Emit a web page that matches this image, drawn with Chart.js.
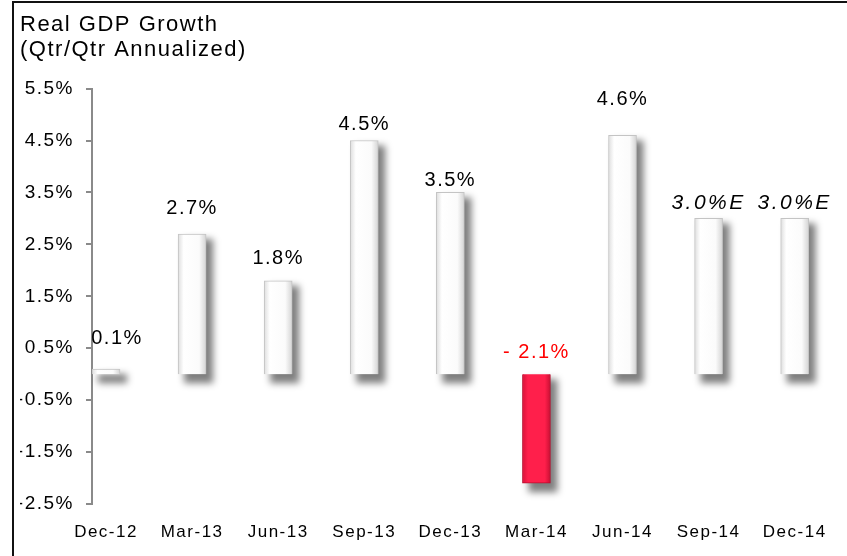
<!DOCTYPE html>
<html>
<head>
<meta charset="utf-8">
<script src="https://cdn.jsdelivr.net/npm/chart.js@4/dist/chart.umd.min.js"></script>
<style>
  html, body { margin: 0; padding: 0; background: #fff; }
  #wrap { width: 847px; height: 556px; position: relative; }
</style>
</head>
<body>
<div id="wrap"><canvas id="gdp"></canvas></div>
<script>
// quarters on the x axis
const quarters = ['Dec-12', 'Mar-13', 'Jun-13', 'Sep-13', 'Dec-13', 'Mar-14', 'Jun-14', 'Sep-14', 'Dec-14'];
// real GDP growth, qtr/qtr annualized (%)
const growth = [0.1, 2.7, 1.8, 4.5, 3.5, -2.1, 4.6, 3.0, 3.0];
// which quarters are estimates
const isEstimate = [false, false, false, false, false, false, false, true, true];
// y axis tick values
const yTicks = [-2.5, -1.5, -0.5, 0.5, 1.5, 2.5, 3.5, 4.5, 5.5];

// styling: how far each value label sits above its bar (px), labels were hand placed in Excel
const labelLift = [31, 26, 22, 16, 12, 22, 36, 15, 15];

const FONT = 'Arial, "Liberation Sans", sans-serif';
const SPACING = '1.5px';

// Excel text looks a bit stretched, widen it with letter spacing
const spacingPlugin = {
  id: 'spacing',
  beforeUpdate(chart) { chart.ctx.letterSpacing = SPACING; },
  beforeLayout(chart) { chart.ctx.letterSpacing = SPACING; },
  beforeDraw(chart) { chart.ctx.letterSpacing = SPACING; },
};

// frame line at the top and left of the picture
const framePlugin = {
  id: 'frame',
  beforeDraw(chart) {
    const ctx = chart.ctx;
    ctx.save();
    ctx.fillStyle = '#fff';
    ctx.fillRect(0, 0, chart.width, chart.height);
    ctx.strokeStyle = '#111';
    ctx.lineWidth = 2;
    ctx.beginPath();
    ctx.moveTo(13, chart.height);
    ctx.lineTo(13, 2);
    ctx.lineTo(chart.width, 2);
    ctx.stroke();
    ctx.restore();
  },
};

// soft drop shadow behind each bar (right and below)
const shadowPlugin = {
  id: 'barShadow',
  beforeDatasetsDraw(chart) {
    const ctx = chart.ctx;
    const meta = chart.getDatasetMeta(0);
    ctx.save();
    ctx.filter = 'blur(3.5px)';
    ctx.fillStyle = 'rgba(0,0,0,0.5)';
    meta.data.forEach((bar) => {
      const top = Math.min(bar.y, bar.base);
      const h = Math.abs(bar.base - bar.y);
      ctx.fillRect(bar.x - bar.width / 2 + 6, top + 5, bar.width + 1, h + 4);
    });
    ctx.restore();
  },
};

// value labels over the bars
const labelPlugin = {
  id: 'valueLabels',
  afterDatasetsDraw(chart) {
    const ctx = chart.ctx;
    const meta = chart.getDatasetMeta(0);
    const y = chart.scales.y;
    ctx.save();
    ctx.textAlign = 'center';
    ctx.textBaseline = 'middle';
    meta.data.forEach((bar, i) => {
      const v = growth[i];
      let text = v.toFixed(1) + '%';
      ctx.letterSpacing = SPACING;
      ctx.fillStyle = '#000';
      ctx.font = '20px ' + FONT;
      if (v < 0) {
        text = '- ' + Math.abs(v).toFixed(1) + '%';
        ctx.fillStyle = '#ff0000';
      }
      if (isEstimate[i]) {
        text += 'E';
        ctx.font = 'italic 21px ' + FONT;
        ctx.letterSpacing = '2.5px';
      }
      const top = v < 0 ? y.getPixelForValue(0) : bar.y;
      ctx.fillText(text, bar.x + (i === 0 ? 11 : 0), top - labelLift[i]);
    });
    ctx.restore();
  },
};

function barFill(ctx) {
  const chart = ctx.chart;
  const neg = growth[ctx.dataIndex] < 0;
  const xs = chart.scales.x;
  if (!xs || xs.left === undefined) return neg ? '#fa1a45' : '#fafafa';
  const cx = xs.getPixelForValue(ctx.dataIndex);
  const g = chart.ctx.createLinearGradient(cx - 14, 0, cx + 14, 0);
  if (neg) {
    g.addColorStop(0, '#d9123a');
    g.addColorStop(0.2, '#ff1f4b');
    g.addColorStop(0.8, '#ff1f4b');
    g.addColorStop(1, '#c90f33');
  } else {
    g.addColorStop(0, '#dedede');
    g.addColorStop(0.2, '#ffffff');
    g.addColorStop(0.75, '#fbfbfb');
    g.addColorStop(1, '#d4d4d4');
  }
  return g;
}

new Chart(document.getElementById('gdp'), {
  type: 'bar',
  data: {
    datasets: [{
      data: growth.map((v, i) => ({ x: i, y: v })),
      backgroundColor: barFill,
      borderColor: (c) => growth[c.dataIndex] < 0 ? '#b80d2e' : '#c4c4c4',
      borderWidth: 1,
      barThickness: 28,
    }],
  },
  plugins: [spacingPlugin, framePlugin, shadowPlugin, labelPlugin],
  options: {
    responsive: true,
    maintainAspectRatio: false,
    animation: false,
    layout: { padding: { left: 20, right: 11, top: 12, bottom: 8 } },
    plugins: {
      legend: { display: false },
      tooltip: { enabled: false },
      title: {
        display: true,
        text: ['Real GDP Growth', '(Qtr/Qtr Annualized)'],
        align: 'start',
        color: '#000',
        font: { family: FONT, size: 22, weight: 'normal', lineHeight: 1.15 },
        padding: { top: 0, bottom: 26 },
      },
    },
    scales: {
      x: {
        type: 'linear',
        offset: false,
        min: -0.163,
        max: 8.48,
        grid: { display: false },
        border: { display: false },
        afterBuildTicks(scale) {
          scale.ticks = quarters.map((_, i) => ({ value: i }));
        },
        afterFit(scale) { scale.height = 44; },
        ticks: {
          autoSkip: false,
          maxRotation: 0,
          padding: 10,
          color: '#000',
          font: { family: FONT, size: 17 },
          callback: (v) => quarters[v],
        },
      },
      y: {
        min: -2.5,
        max: 5.5,
        afterBuildTicks(scale) {
          scale.ticks = yTicks.map((v) => ({ value: v }));
        },
        afterFit(scale) { scale.width = 72; },
        border: { display: true, color: '#8a8a8a', width: 2 },
        grid: {
          drawOnChartArea: true,
          color: (c) => c.tick && c.tick.value === 0 ? '#8a8a8a' : 'rgba(0,0,0,0)',
          lineWidth: 2,
          tickColor: '#8a8a8a',
          tickLength: 6,
        },
        ticks: {
          padding: 12,
          color: '#000',
          font: { family: FONT, size: 19 },
          callback: (v) => v.toFixed(1) + '%',
        },
      },
    },
  },
});
</script>
</body>
</html>
